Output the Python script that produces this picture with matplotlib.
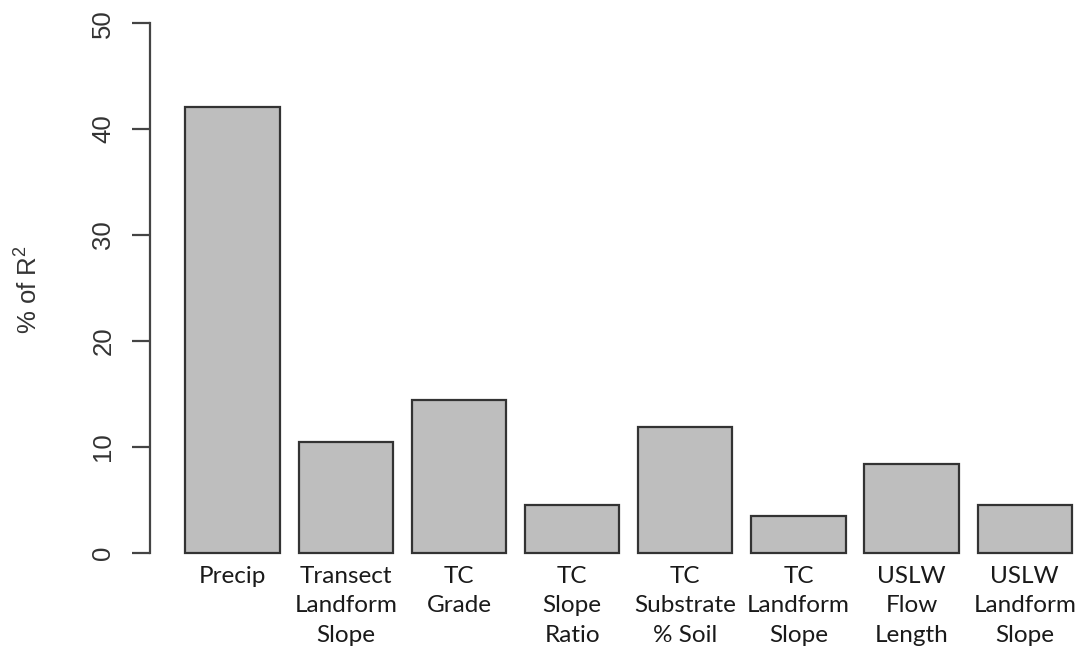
import matplotlib
matplotlib.use("Agg")
import matplotlib.pyplot as plt

categories = ["Precip", "Transect\nLandform\nSlope", "TC\nGrade", "TC\nSlope\nRatio",
              "TC\nSubstrate\n% Soil", "TC\nLandform\nSlope", "USLW\nFlow\nLength", "USLW\nLandform\nSlope"]
values = [42.1, 10.5, 14.4, 4.5, 11.9, 3.5, 8.4, 4.5]
yticks = [0, 10, 20, 30, 40, 50]

plt.rcParams['mathtext.fontset'] = 'custom'
plt.rcParams['mathtext.rm'] = 'Liberation Sans'

fig = plt.figure(figsize=(10.86, 6.46), dpi=100)
ax = fig.add_axes([150/1086, 1 - 574/646, 957.3/1086, 572/646])

w = 1.0
space = 0.2
centers = [space + w/2 + i*(w + space) for i in range(len(values))]
ax.bar(centers, values, width=w, color="#bebebe", edgecolor="#333333", linewidth=1.6)

n = len(values)
xmin, xmax = space, space + n*(w+space) - space
ext = 0.04*(xmax - xmin)
ax.set_xlim(xmin - ext, xmax + ext)
ax.set_ylim(-2, 52)

for s in ["top", "right", "bottom"]:
    ax.spines[s].set_visible(False)
ax.spines["left"].set_bounds(0, 50)
ax.spines["left"].set_color("#444444")
ax.spines["left"].set_linewidth(1.6)

ax.set_yticks(yticks)
ax.set_yticklabels([str(t) for t in yticks], rotation=90, va="center",
                   fontfamily="Liberation Sans", fontsize=18.5, color="#333333")
ax.tick_params(axis="y", length=13, width=1.6, color="#444444", pad=12)
ax.set_xticks([])

for c, lab in zip(centers, categories):
    ax.text(c, -1.2, lab, ha="center", va="top", multialignment="center",
            fontfamily="Lato", fontsize=17.5, color="#1a1a1a", linespacing=1.52)

fig.text(29/1086, 1 - 290/646, "% of $\\mathregular{R^2}$", rotation=90, ha="center", va="center",
         fontfamily="Liberation Sans", fontsize=18.5, color="#333333")

fig.savefig("out.png", dpi=100)
